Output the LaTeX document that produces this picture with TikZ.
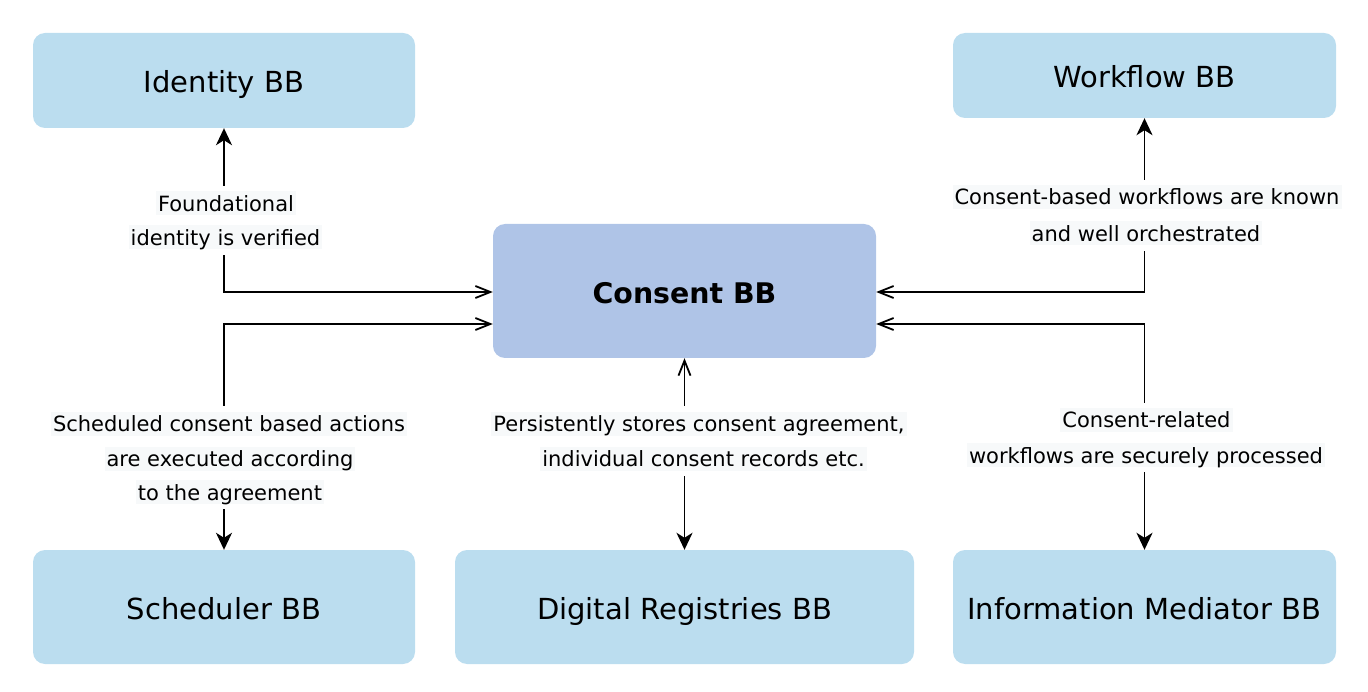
\documentclass[tikz,border=0pt]{standalone}
\usepackage{fontspec}
\setmainfont{DejaVu Sans}
\usetikzlibrary{arrows.meta,fit,backgrounds}
\definecolor{boxblue}{HTML}{BBDDEF}
\definecolor{coreblue}{HTML}{AFC4E7}
\definecolor{labelbg}{HTML}{F7F9FA}
\begin{document}
\begin{tikzpicture}[x=1pt,y=-1pt,
  bb/.style={fill=boxblue, rounded corners=12pt, inner sep=0pt, font=\fontsize{29}{34}\selectfont, text height=25pt, text depth=0pt},
  lbl/.style={fill=labelbg, inner xsep=2pt, inner ysep=0pt, font=\fontsize{21}{25}\selectfont, text height=20pt, text depth=4pt},
  conn/.style={line width=1.8pt, {Straight Barb[length=15pt,width=12pt]}-{Stealth[length=17pt,width=16pt,inset=5pt]}},
  cover/.style={fill=white, inner sep=5pt}]
\useasboundingbox (0,0) rectangle (1368,692);
% boxes
\node[bb, minimum width=382pt, minimum height=95pt] (identity) at (224,80.5) {Identity BB};
\node[bb, minimum width=383pt, minimum height=85pt] (workflow) at (1144.5,75.5) {Workflow BB};
\node[bb, fill=coreblue, minimum width=383pt, minimum height=134pt, font=\fontsize{28.4}{34}\selectfont\bfseries] (consent) at (684.5,291) {Consent BB};
\node[bb, minimum width=382pt, minimum height=114pt] (scheduler) at (224,607) {Scheduler BB};
\node[bb, minimum width=459pt, minimum height=114pt] (registries) at (684.5,607) {Digital Registries BB};
\node[bb, minimum width=383pt, minimum height=114pt] (mediator) at (1144.5,607) {Information Mediator BB};
% labels
\node[lbl] (la1) at (226,203.5) {Foundational};
\node[lbl] (la2) at (225.5,237.5) {identity is verified};
\node[lbl] (lb1) at (1147,197) {Consent-based workflows are known};
\node[lbl] (lb2) at (1146,233.5) {and well orchestrated};
\node[lbl] (lc1) at (229,423.5) {Scheduled consent based actions~};
\node[lbl] (lc2) at (230,458.5) {are executed according~};
\node[lbl] (lc3) at (230,492) {to the agreement};
\node[lbl] (ld1) at (699,423.5) {Persistently stores consent agreement,~};
\node[lbl] (ld2) at (703.5,458.5) {individual consent records etc.};
\node[lbl] (le1) at (1146.5,420) {Consent-related};
\node[lbl] (le2) at (1146,455) {workflows are securely processed};
\begin{scope}[on background layer]
  \draw[conn] ([yshift=-1pt]consent.west) -| (identity.south);
  \draw[conn] ([yshift=-33pt]consent.west) -| (scheduler.north);
  \draw[conn] ([yshift=-1pt]consent.east) -| (workflow.south);
  \draw[conn] ([yshift=-33pt]consent.east) -| (mediator.north);
  \draw[conn] (consent.south) -- (registries.north);
  \node[cover, fit=(la1)(la2)] (ca) {};
  \node[cover, fit=(lb1)(lb2)] (cb) {};
  \node[cover, fit=(lc1)(lc2)(lc3)] (cc) {};
  \node[cover, fit=(ld1)(ld2)] (cd) {};
  \node[cover, fit=(le1)(le2)] (ce) {};
\end{scope}
\end{tikzpicture}
\end{document}
